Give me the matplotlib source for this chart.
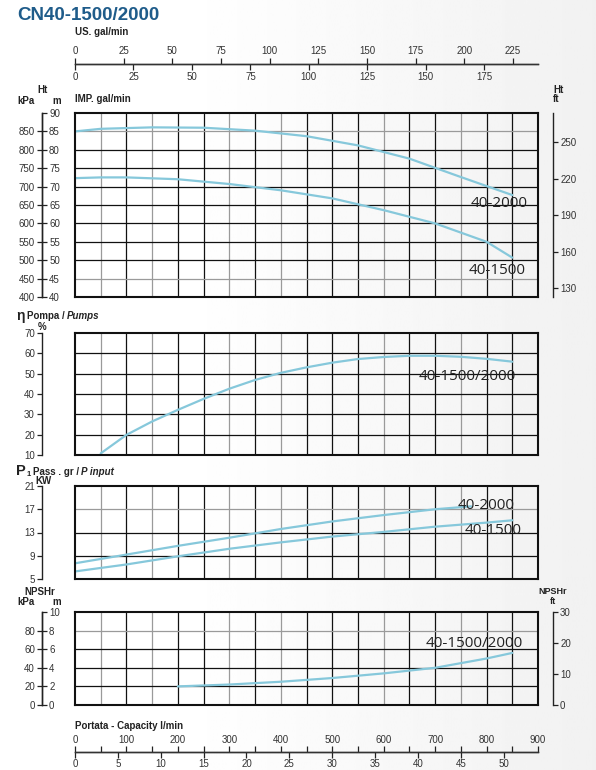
import matplotlib
matplotlib.use("Agg")
import matplotlib.pyplot as plt
import numpy as np

plt.rcParams['font.family'] = ['Liberation Sans', 'DejaVu Sans']

# ---------------- data ----------------
title = "CN40-1500/2000"

# Head (m) vs flow (l/min)
q_h2000 = [0, 50, 150, 250, 350, 450, 550, 650, 750, 850]
h_2000 = [85.0, 85.7, 86.1, 86.0, 85.2, 83.7, 81.2, 77.6, 72.6, 67.7]
q_h1500 = [0, 50, 100, 200, 300, 400, 500, 600, 700, 800, 850]
h_1500 = [72.3, 72.5, 72.5, 72.0, 70.7, 69.0, 66.8, 63.6, 60.0, 55.0, 50.7]

# Efficiency (%)
q_eff = [50, 100, 150, 200, 250, 300, 350, 400, 450, 500, 550, 600, 650, 700, 750, 800, 850]
eff = [10.8, 19.9, 26.5, 32.2, 37.6, 42.6, 46.9, 50.4, 53.1, 55.4, 57.2, 58.2, 58.8, 58.8, 58.3, 57.3, 55.9]

# Power input (kW)
q_p2000 = [0, 100, 200, 300, 400, 500, 600, 700, 770]
p_2000 = [7.7, 9.2, 10.7, 12.1, 13.6, 14.9, 16.0, 17.0, 17.5]
q_p1500 = [0, 100, 200, 300, 400, 500, 600, 700, 800, 850]
p_1500 = [6.3, 7.5, 8.9, 10.2, 11.3, 12.3, 13.1, 14.0, 14.7, 15.1]

# NPSHr (m)
q_npsh = [200, 300, 400, 500, 600, 700, 750, 800, 850]
npsh = [2.0, 2.2, 2.5, 2.9, 3.4, 4.0, 4.5, 5.0, 5.6]

# scale ticks
us_ticks = [0, 25, 50, 75, 100, 125, 150, 175, 200, 225]
imp_ticks = [0, 25, 50, 75, 100, 125, 150, 175]
lmin_ticks = [0, 100, 200, 300, 400, 500, 600, 700, 800, 900]
m3h_ticks = [0, 5, 10, 15, 20, 25, 30, 35, 40, 45, 50]
head_m_ticks = [40, 45, 50, 55, 60, 65, 70, 75, 80, 85, 90]
head_kpa_ticks = [400, 450, 500, 550, 600, 650, 700, 750, 800, 850]
head_ft_ticks = [130, 160, 190, 220, 250]
eff_ticks = [10, 20, 30, 40, 50, 60, 70]
pow_ticks = [5, 9, 13, 17, 21]
npsh_m_ticks = [0, 2, 4, 6, 8, 10]
npsh_kpa_ticks = [0, 20, 40, 60, 80]
npsh_ft_ticks = [0, 10, 20, 30]

# ---------------- layout helpers ----------------
FW, FH = 596, 770
fig = plt.figure(figsize=(FW / 100, FH / 100), dpi=100)
fig.patch.set_facecolor('white')

# subtle light-grey background shading toward the right (as in the reference sheet)
bg = fig.add_axes([0, 0, 1, 1], zorder=-10)
grad = np.clip((np.linspace(0, 1, 200) - 0.3) / 0.7, 0, 1) * 0.055
bg.imshow(1 - np.tile(grad, (2, 1)), cmap='gray', vmin=0, vmax=1, aspect='auto',
          extent=[0, 1, 0, 1])
bg.axis('off')


def fx(px):
    return px / FW


def fy(py):
    return 1 - py / FH


XL, XR = 75, 538
AXW = (XR - XL) / FW
LEFT_LOC = (42 - XL) / (XR - XL)
RIGHT_LOC = (553 - XL) / (XR - XL)
CURVE = '#86c8db'
TXT = '#333333'
TICK_FS = 7
TL = 4.2  # tick length in points (~6 px)

gray_x = [50, 150, 300, 400, 600, 750]
black_x = [v for v in range(50, 900, 50) if v not in gray_x]


def panel(top, bot, ylim, ystep, gray_y):
    ax = fig.add_axes([fx(XL), fy(bot), AXW, (bot - top) / FH])
    ax.set_xlim(0, 900)
    ax.set_ylim(*ylim)
    ys = [ylim[0] + ystep * i for i in range(1, int(round((ylim[1] - ylim[0]) / ystep)))]
    ax.set_xticks(black_x)
    ax.set_xticks(gray_x, minor=True)
    ax.set_yticks([y for y in ys if y not in gray_y])
    ax.set_yticks(gray_y, minor=True)
    ax.tick_params(which='both', length=0, labelbottom=False, labelleft=False)
    ax.grid(which='major', color='#111111', lw=0.9)
    ax.grid(which='minor', color='#9a9a9a', lw=0.9)
    ax.set_axisbelow(True)
    ax.patch.set_alpha(0)
    for s in ax.spines.values():
        s.set_linewidth(1.5)
        s.set_color('#111111')
    return ax


def side_axis(ax, loc, align, ticks, fwd=None, inv=None):
    if fwd is None:
        sec = ax.secondary_yaxis(loc)
    else:
        sec = ax.secondary_yaxis(loc, functions=(fwd, inv))
    sec.set_alignment(align)
    sec.set_yticks(ticks)
    sec.tick_params(axis='y', length=3.6, width=0.9, pad=1.5, labelsize=TICK_FS,
                    labelcolor=TXT, color='#222222')
    sec.spines[align].set_linewidth(1.0)
    sec.spines[align].set_color('#222222')
    return sec


# ---------------- top scale (US / IMP gal/min) ----------------
ax_top = fig.add_axes([fx(XL), fy(64), AXW, 1e-4])
ax_top.set_xlim(0, 900)
ax_top.axis('off')
us = ax_top.secondary_xaxis('top', functions=(lambda l: l / 3.785, lambda g: g * 3.785))
us.set_xticks(us_ticks)
imp = ax_top.secondary_xaxis('bottom', functions=(lambda l: l / 4.546, lambda g: g * 4.546))
imp.set_xticks(imp_ticks)
for sec in (us, imp):
    sec.tick_params(axis='x', length=TL, width=0.9, pad=1.5, labelsize=TICK_FS,
                    labelcolor=TXT, color='#222222')
    for s in sec.spines.values():
        s.set_linewidth(1.0)
        s.set_color('#333333')

# ---------------- head panel ----------------
ax_h = panel(113, 297, (40, 90), 5, [45, 85])
ax_h.plot(q_h2000, h_2000, color=CURVE, lw=1.6, solid_capstyle='round')
ax_h.plot(q_h1500, h_1500, color=CURVE, lw=1.6, solid_capstyle='round')
ax_h.text(824, 65.5, '40-2000', family='Open Sans', fontsize=11, color='#222222',
          ha='center', va='center')
ax_h.text(820, 47.1, '40-1500', family='Open Sans', fontsize=11, color='#222222',
          ha='center', va='center')
side_axis(ax_h, LEFT_LOC, 'left', head_kpa_ticks, lambda m: m * 10, lambda k: k / 10)
side_axis(ax_h, LEFT_LOC, 'right', head_m_ticks)
side_axis(ax_h, RIGHT_LOC, 'right', head_ft_ticks,
          lambda m: 130 + (m - 42.45) * 3.03, lambda f: 42.45 + (f - 130) / 3.03)

# ---------------- efficiency panel ----------------
ax_e = panel(333, 455, (10, 70), 10, [])
ax_e.plot(q_eff, eff, color=CURVE, lw=1.6, solid_capstyle='round')
ax_e.text(762, 48.4, '40-1500/2000', family='Open Sans', fontsize=11, color='#222222',
          ha='center', va='center')
side_axis(ax_e, LEFT_LOC, 'left', eff_ticks)

# ---------------- power panel ----------------
ax_p = panel(486, 579, (5, 21), 4, [17])
ax_p.plot(q_p2000, p_2000, color=CURVE, lw=1.6, solid_capstyle='round')
ax_p.plot(q_p1500, p_1500, color=CURVE, lw=1.6, solid_capstyle='round')
ax_p.text(799, 17.7, '40-2000', family='Open Sans', fontsize=11, color='#222222',
          ha='center', va='center')
ax_p.text(812, 13.3, '40-1500', family='Open Sans', fontsize=11, color='#222222',
          ha='center', va='center')
side_axis(ax_p, LEFT_LOC, 'left', pow_ticks)

# ---------------- NPSH panel ----------------
ax_n = panel(612, 705, (0, 10), 2, [8])
ax_n.plot(q_npsh, npsh, color=CURVE, lw=1.6, solid_capstyle='round')
ax_n.text(776, 6.56, '40-1500/2000', family='Open Sans', fontsize=11, color='#222222',
          ha='center', va='center')
side_axis(ax_n, LEFT_LOC, 'left', npsh_kpa_ticks, lambda m: m * 10, lambda k: k / 10)
side_axis(ax_n, LEFT_LOC, 'right', npsh_m_ticks)
side_axis(ax_n, RIGHT_LOC, 'right', npsh_ft_ticks, lambda m: m * 3, lambda f: f / 3)

# ---------------- bottom scale (l/min / m3/h) ----------------
ax_b = fig.add_axes([fx(XL), fy(752), AXW, 1e-4])
ax_b.set_xlim(0, 900)
ax_b.axis('off')
lm = ax_b.secondary_xaxis('top')
lm.set_xticks(lmin_ticks)
lm.set_xticks(list(range(50, 900, 100)), minor=True)
lm.tick_params(axis='x', which='minor', length=TL, width=0.9, color='#222222')
m3 = ax_b.secondary_xaxis('bottom', functions=(lambda l: l * 0.06, lambda m: m / 0.06))
m3.set_xticks(m3h_ticks)
for sec in (lm, m3):
    sec.tick_params(axis='x', which='major', length=TL, width=0.9, pad=1,
                    labelsize=TICK_FS, labelcolor=TXT, color='#222222')
    for s in sec.spines.values():
        s.set_linewidth(1.0)
        s.set_color('#333333')

# ---------------- texts ----------------
B = dict(fontsize=7, weight='bold', color='#222222', va='center')
BA = dict(fontsize=7, weight='bold', color='#222222', va='center', ha='left',
          textcoords='offset points', annotation_clip=False)
fig.text(fx(17), fy(15), title, fontsize=13.5, weight='bold', color='#1f5c8a', va='center')
fig.text(fx(75), fy(32), 'US. gal/min', **B)
fig.text(fx(75), fy(99), 'IMP. gal/min', **B)
fig.text(fx(42), fy(90), 'Ht', ha='center', **B)
fig.text(fx(26), fy(101), 'kPa', ha='center', **B)
fig.text(fx(57), fy(101), 'm', ha='center', **B)
fig.text(fx(553), fy(90), 'Ht', ha='left', **B)
fig.text(fx(553), fy(99), 'ft', ha='left', **B)

# efficiency heading
t_eta = fig.text(fx(16), fy(316), 'η', fontsize=10, weight='bold', color='#222222', va='center')
t_pom = ax_top.annotate('Pompa /', xy=(1, fy(316)), xycoords=(t_eta, 'figure fraction'),
                        xytext=(2, 0), **BA)
ax_top.annotate('Pumps', xy=(1, fy(316)), xycoords=(t_pom, 'figure fraction'),
                xytext=(1.5, 0), style='italic', **BA)
fig.text(fx(42), fy(327), '%', ha='center', **B)

# power heading
t_P = fig.text(fx(16), fy(471), 'P', fontsize=10.5, weight='bold', color='#222222', va='center')
t_1 = ax_top.annotate('1', xy=(1, fy(474)), xycoords=(t_P, 'figure fraction'),
                      xytext=(0.5, 0), fontsize=5.5, weight='bold', color='#222222',
                      va='center', ha='left', textcoords='offset points',
                      annotation_clip=False)
t_pas = ax_top.annotate('Pass . gr /', xy=(1, fy(472)), xycoords=(t_1, 'figure fraction'),
                        xytext=(1.5, 0), **BA)
ax_top.annotate('P input', xy=(1, fy(472)), xycoords=(t_pas, 'figure fraction'),
                xytext=(1.5, 0), style='italic', **BA)
fig.text(fx(44), fy(481), 'KW', ha='center', **B)

fig.text(fx(40), fy(592), 'NPSHr', ha='center', **B)
fig.text(fx(26), fy(602), 'kPa', ha='center', **B)
fig.text(fx(57), fy(602), 'm', ha='center', **B)
fig.text(fx(553), fy(591), 'NPSHr', ha='center', fontsize=6.5, weight='bold',
         color='#222222', va='center')
fig.text(fx(553), fy(601), 'ft', ha='center', fontsize=6.5, weight='bold',
         color='#222222', va='center')

fig.text(fx(75), fy(726), 'Portata - Capacity l/min', **B)

fig.savefig('out.png', dpi=100)
